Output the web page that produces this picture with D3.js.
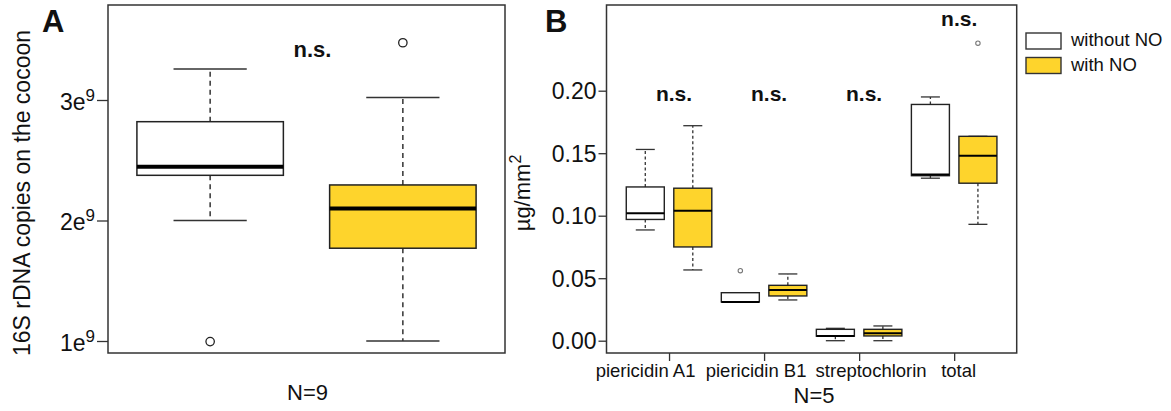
<!DOCTYPE html>
<html>
<head>
<meta charset="utf-8">
<script src="https://cdn.jsdelivr.net/npm/d3@7"></script>
<style>
  body { margin: 0; background: #fff; }
  text { font-family: "Liberation Sans", Arial, sans-serif; fill: #111; }
</style>
</head>
<body>
<svg id="fig" width="1171" height="411"></svg>
<script>
// ---- panel A data : 16S rDNA copies, N=9
const groupsA = ["without NO", "with NO"]
const lowA  = [2.00e9, 1.00e9]
const q1A   = [2.375e9, 1.77e9]
const medA  = [2.447e9, 2.10e9]
const q3A   = [2.82e9, 2.295e9]
const highA = [3.257e9, 3.02e9]
const outA  = [[0.995e9], [3.475e9]]
const ticksA = [1e9, 2e9, 3e9]

// ---- panel B data : ug/mm2, N=5
const categoriesB = ["piericidin A1", "piericidin B1", "streptochlorin", "total"]
const treatments = ["without NO", "with NO"]
const lowB  = { "without NO": [0.0886, 0.031, 0.000, 0.130], "with NO": [0.0566, 0.0326, 0.000, 0.0931] }
const q1B   = { "without NO": [0.097, 0.031, 0.0036, 0.132], "with NO": [0.075, 0.0358, 0.0038, 0.126] }
const medB  = { "without NO": [0.102, 0.031, 0.0038, 0.133], "with NO": [0.104, 0.0406, 0.0059, 0.148] }
const q3B   = { "without NO": [0.123, 0.0384, 0.0091, 0.189], "with NO": [0.122, 0.0443, 0.0091, 0.1635] }
const highB = { "without NO": [0.153, 0.0384, 0.0099, 0.195], "with NO": [0.172, 0.0534, 0.0118, 0.1635] }
const outB  = { "without NO": [[], [0.056], [], []], "with NO": [[], [], [], [0.238]] }
const ticksB = [0, 0.05, 0.10, 0.15, 0.20]

const fills = { "without NO": "#ffffff", "with NO": "#fed42c" }
const FONT = '"Liberation Sans", Arial, sans-serif'

const svg = d3.select("#fig")

// draw one box + whiskers + outliers
function drawBox(g, cx, bw, y, s, o) {
  const cap = bw / 2
  g.append("line")
      .attr("x1", cx).attr("x2", cx)
      .attr("y1", y(s.q3)).attr("y2", y(s.high))
      .attr("stroke", "#333").attr("stroke-width", o.ws).attr("stroke-dasharray", o.dash)
  g.append("line")
      .attr("x1", cx).attr("x2", cx)
      .attr("y1", y(s.q1)).attr("y2", y(s.low))
      .attr("stroke", "#333").attr("stroke-width", o.ws).attr("stroke-dasharray", o.dash)
  for (const v of [s.low, s.high]) {
    g.append("line")
        .attr("x1", cx - cap / 2).attr("x2", cx + cap / 2)
        .attr("y1", y(v)).attr("y2", y(v))
        .attr("stroke", "#333").attr("stroke-width", o.ws)
  }
  g.append("rect")
      .attr("x", cx - bw / 2).attr("width", bw)
      .attr("y", y(s.q3)).attr("height", y(s.q1) - y(s.q3))
      .attr("fill", s.fill).attr("stroke", "#222").attr("stroke-width", o.bs)
  g.append("line")
      .attr("x1", cx - bw / 2).attr("x2", cx + bw / 2)
      .attr("y1", y(s.med)).attr("y2", y(s.med))
      .attr("stroke", "#000").attr("stroke-width", o.ms)
  g.selectAll(null)
    .data(s.out)
    .join("circle")
      .attr("cx", cx).attr("cy", d => y(d))
      .attr("r", o.r)
      .attr("fill", "none").attr("stroke", o.oc).attr("stroke-width", o.os)
}

// ================= panel A =================
const A = { left: 108, right: 505, top: 5, bottom: 353 }
const xA = d3.scalePoint().domain(groupsA).range([A.left, A.right]).padding(0.53)
const yA = d3.scaleLinear().domain([1e9, 3e9]).range([341, 100])
const gA = svg.append("g")

gA.append("rect")
    .attr("x", A.left).attr("y", A.top)
    .attr("width", A.right - A.left).attr("height", A.bottom - A.top)
    .attr("fill", "none").attr("stroke", "#333").attr("stroke-width", 1.5)

groupsA.forEach((grp, i) => {
  drawBox(gA, xA(grp), xA.step() * 0.76, yA,
    { low: lowA[i], q1: q1A[i], med: medA[i], q3: q3A[i], high: highA[i], out: outA[i], fill: fills[grp] },
    { ws: 1.5, bs: 1.5, ms: 4, dash: "5,4", r: 4.2, oc: "#222", os: 1.3 })
})

const axA = gA.append("g")
    .attr("transform", `translate(${A.left},0)`)
    .call(d3.axisLeft(yA).tickValues(ticksA).tickSize(11).tickPadding(2).tickFormat(d => d / 1e9))
axA.select(".domain").remove()
axA.selectAll(".tick line").attr("stroke", "#333").attr("stroke-width", 1.3)
axA.selectAll(".tick text").each(function (d) {
  const t = d3.select(this)
  t.text(null).attr("font-family", FONT).attr("font-size", 23).attr("fill", "#222").attr("dy", "0.4em")
  t.append("tspan").text((d / 1e9) + "e")
  t.append("tspan").attr("font-size", 17).attr("dy", -9).text("9")
})

gA.append("text")
    .attr("transform", "translate(30,193) rotate(-90)")
    .attr("text-anchor", "middle")
    .attr("font-size", 23).attr("fill", "#222")
    .text("16S rDNA copies on the cocoon")

gA.append("text").attr("x", 42).attr("y", 32)
    .attr("font-size", 31).attr("font-weight", "bold").text("A")

gA.append("text").attr("x", d3.mean(groupsA, g => xA(g)) + 6).attr("y", 57)
    .attr("text-anchor", "middle").attr("font-size", 22).attr("font-weight", "bold").text("n.s.")

gA.append("text").attr("x", d3.mean(groupsA, g => xA(g)) + 1).attr("y", 400)
    .attr("text-anchor", "middle").attr("font-size", 22).attr("fill", "#222").text("N=9")

// ================= panel B =================
const B = { left: 606.5, right: 1016.7, top: 5, bottom: 353 }
const xB = d3.scalePoint().domain(categoriesB).range([B.left, B.right]).padding(0.658)
const yB = d3.scaleLinear().domain([0, 0.2]).range([340.7, 90.7])
const gB = svg.append("g")

gB.append("rect")
    .attr("x", B.left).attr("y", B.top)
    .attr("width", B.right - B.left).attr("height", B.bottom - B.top)
    .attr("fill", "none").attr("stroke", "#333").attr("stroke-width", 1.5)

const shift = { "without NO": -0.25, "with NO": 0.25 }
categoriesB.forEach((cat, i) => {
  treatments.forEach(tr => {
    drawBox(gB, xB(cat) + shift[tr] * xB.step(), xB.step() * 0.4, yB,
      { low: lowB[tr][i], q1: q1B[tr][i], med: medB[tr][i], q3: q3B[tr][i], high: highB[tr][i], out: outB[tr][i], fill: fills[tr] },
      { ws: 1.3, bs: 1.4, ms: 2, dash: "3,2.5", r: 2.2, oc: "#777", os: 1.1 })
  })
})

const axBy = gB.append("g")
    .attr("transform", `translate(${B.left},0)`)
    .call(d3.axisLeft(yB).tickValues(ticksB).tickSize(8).tickPadding(2).tickFormat(d3.format(".2f")))
axBy.select(".domain").remove()
axBy.selectAll(".tick line").attr("stroke", "#333").attr("stroke-width", 1.3)
axBy.selectAll(".tick text").attr("font-family", FONT).attr("font-size", 23).attr("fill", "#222").attr("dy", "0.35em")

// category labels were nudged apart in the original figure
const labelNudge = [-24, -8.5, 11.5, 4]
const axBx = gB.append("g")
    .attr("transform", `translate(0,${B.bottom})`)
    .call(d3.axisBottom(xB).tickSize(8).tickPadding(3))
axBx.select(".domain").remove()
axBx.selectAll(".tick line").attr("stroke", "#333").attr("stroke-width", 1.3)
axBx.selectAll(".tick text")
    .attr("font-family", FONT).attr("font-size", 18.5).attr("fill", "#222")
    .attr("dx", (d, i) => labelNudge[i])

const yl = gB.append("text")
    .attr("transform", "translate(530,193) rotate(-90)")
    .attr("text-anchor", "middle")
    .attr("font-size", 22).attr("fill", "#222")
yl.append("tspan").text("\u00b5g/mm")
yl.append("tspan").attr("font-size", 16).attr("dy", -9).text("2")

gB.append("text").attr("x", 545).attr("y", 32)
    .attr("font-size", 31).attr("font-weight", "bold").text("B")

gB.selectAll(".ns")
  .data(categoriesB)
  .join("text")
    .attr("x", d => xB(d) + 5)
    .attr("y", (d, i) => i < 3 ? 101 : 26)
    .attr("text-anchor", "middle").attr("font-size", 21).attr("font-weight", "bold")
    .text("n.s.")

gB.append("text").attr("x", 814).attr("y", 403)
    .attr("text-anchor", "middle").attr("font-size", 22).attr("fill", "#222").text("N=5")

// legend
const leg = svg.append("g").attr("transform", "translate(1026,33)")
treatments.forEach((tr, i) => {
  leg.append("rect")
      .attr("x", 0).attr("y", i * 24.5)
      .attr("width", 35).attr("height", 16)
      .attr("fill", fills[tr]).attr("stroke", "#333").attr("stroke-width", 1.4)
  leg.append("text")
      .attr("x", 45).attr("y", i * 24.5 + 13)
      .attr("font-size", 18.5).attr("fill", "#222")
      .text(tr)
})
</script>
</body>
</html>
